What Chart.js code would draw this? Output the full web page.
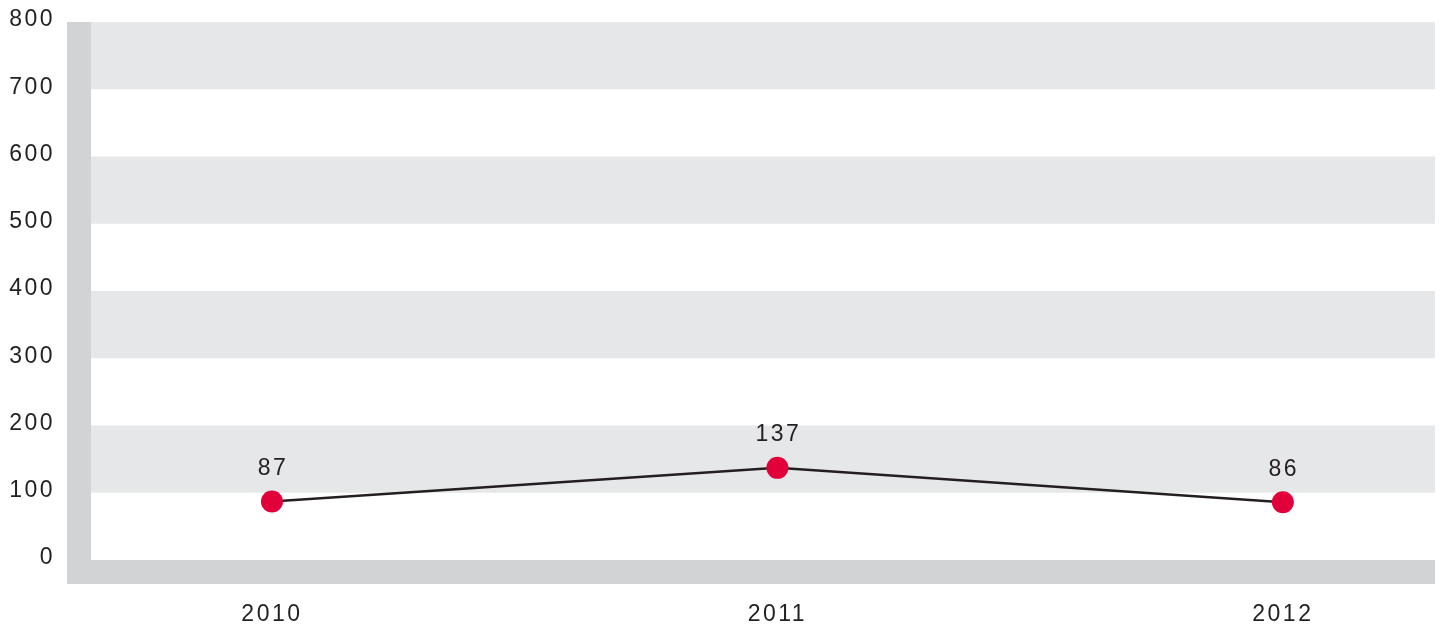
<!DOCTYPE html>
<html>
<head>
<meta charset="utf-8">
<script src="https://cdn.jsdelivr.net/npm/chart.js@4/dist/chart.umd.min.js"></script>
<style>
  html, body { margin: 0; padding: 0; background: #fff; }
  #wrap { width: 1441px; height: 626px; position: relative; }
</style>
</head>
<body>
<div id="wrap"><canvas id="myChart"></canvas></div>
<script>
const years = [2010, 2011, 2012];
const values = [87, 137, 86];
const yTicks = [0, 100, 200, 300, 400, 500, 600, 700, 800];
const bandStarts = [100, 300, 500, 700];

const textColor = '#231f20';
const frameColor = '#d1d3d4';
const bandColor = '#e6e7e8';
const pointColor = '#e2003a';
const font = { family: "'Liberation Sans', Arial, sans-serif", size: 23 };
const letterGap = '2.5px';

// letter spacing like the printed chart
const spacing = {
    id: 'spacing',
    beforeUpdate(chart) { chart.ctx.letterSpacing = letterGap; },
    beforeDraw(chart) { chart.ctx.letterSpacing = letterGap; }
};

// grey frame on the left and bottom, plus the alternating bands
const frame = {
    id: 'frame',
    beforeDatasetsDraw(chart) {
        const ctx = chart.ctx;
        const area = chart.chartArea;
        const y = chart.scales.y;
        ctx.save();
        ctx.fillStyle = bandColor;
        bandStarts.forEach(v => {
            const top = y.getPixelForValue(v + 100);
            const bottom = y.getPixelForValue(v);
            ctx.fillRect(area.left, top, area.right - area.left, bottom - top);
        });
        ctx.fillStyle = frameColor;
        ctx.fillRect(area.left - 24, area.top, 24, area.bottom - area.top + 24);
        ctx.fillRect(area.left - 24, area.bottom, area.right - area.left + 24, 24);
        ctx.restore();
    }
};

// value labels above the points
const valueLabels = {
    id: 'valueLabels',
    afterDatasetsDraw(chart) {
        const ctx = chart.ctx;
        const meta = chart.getDatasetMeta(0);
        ctx.save();
        ctx.font = font.size + 'px ' + font.family;
        ctx.fillStyle = textColor;
        ctx.textAlign = 'center';
        ctx.textBaseline = 'middle';
        meta.data.forEach((pt, i) => {
            ctx.fillText(String(values[i]), pt.x + 1, pt.y - 33);
        });
        ctx.restore();
    }
};

new Chart(document.getElementById('myChart'), {
    type: 'line',
    data: {
        datasets: [{
            data: years.map((yr, i) => ({ x: yr, y: values[i] })),
            borderColor: textColor,
            borderWidth: 2.5,
            tension: 0,
            pointRadius: 11,
            pointHoverRadius: 11,
            pointBackgroundColor: pointColor,
            pointBorderWidth: 0,
            clip: false
        }]
    },
    options: {
        responsive: true,
        maintainAspectRatio: false,
        animation: false,
        events: [],
        layout: {
            autoPadding: false,
            padding: { top: 22, right: 6, left: 0, bottom: 0 }
        },
        plugins: {
            legend: { display: false },
            tooltip: { enabled: false }
        },
        scales: {
            x: {
                type: 'linear',
                min: 2009.642,
                max: 2012.301,
                grid: { display: false, drawTicks: false },
                border: { display: false },
                afterBuildTicks: s => { s.ticks = years.map(v => ({ value: v })); },
                afterFit: s => {
                    s.height = 66;
                    s.paddingLeft = 0;
                    s.paddingRight = 0;
                },
                ticks: {
                    color: textColor,
                    font: font,
                    padding: 41,
                    maxRotation: 0,
                    autoSkip: false,
                    callback: v => String(v)
                }
            },
            y: {
                min: 0,
                max: 800,
                grid: { display: false, drawTicks: false },
                border: { display: false },
                afterBuildTicks: s => { s.ticks = yTicks.map(v => ({ value: v })); },
                afterFit: s => {
                    s.width = 91;
                    s.paddingTop = 0;
                    s.paddingBottom = 0;
                },
                ticks: {
                    color: textColor,
                    font: font,
                    padding: 36,
                    labelOffset: -2
                }
            }
        }
    },
    plugins: [spacing, frame, valueLabels]
});
</script>
</body>
</html>
